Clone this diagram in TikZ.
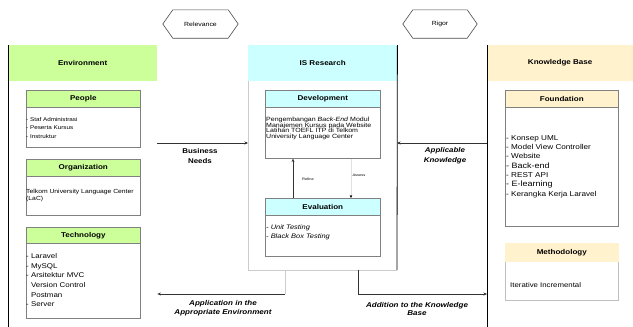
\documentclass[tikz,border=0pt]{standalone}
\usepackage{fontspec}
\setmainfont{Liberation Sans}[FakeStretch=1.15]
\usetikzlibrary{arrows.meta,calc}
\definecolor{envg}{HTML}{CCFF99}
\definecolor{isc}{HTML}{CCFFFF}
\definecolor{kby}{HTML}{FFF2CC}
\newcommand\fsz[2]{\fontsize{#1}{#2}\selectfont}
\begin{document}
\begin{tikzpicture}[x=1pt,y=-1pt,
  colhdr/.style={anchor=north west, inner sep=0, minimum height=36, font=\fsz{7}{8}\bfseries},
  box/.style={anchor=north west, inner sep=0, draw=black!50, line width=0.6},
  bhdr/.style={anchor=north west, inner sep=0, draw=black!50, line width=0.6, font=\fsz{7}{8}\bfseries},
  btxt/.style={anchor=north west, inner sep=0, align=left},
  colline/.style={line width=0.8, black},
  faint/.style={line width=0.6, black!20},
  arr/.style={line width=0.8, black!80, -{Stealth[length=3.5pt,width=3pt]}},
  lbl/.style={align=center, inner sep=0, font=\fsz{6.9}{9.5}\bfseries},
  small/.style={inner sep=0, font=\fsz{3.5}{4}},
  hex/.style={draw=black!70, line width=0.6},
]
\useasboundingbox (0,0) rectangle (633,327);

% column headers
\node[colhdr, fill=envg, minimum width=149] (env) at (8,45) {Environment};
\node[colhdr, fill=isc, minimum width=149] (isr) at (248,45) {IS Research};
\node[colhdr, fill=kby, minimum width=146] (kb) at (487,45) {Knowledge Base};

\coordinate (envb) at (8,327);
\draw[colline] (env.north west) -- (envb);
\coordinate (isbr) at (397,270);
\coordinate (isbl) at (248,270);
\draw[colline] (isr.north east) -- (isbr);
\draw[faint] (isbr) -- (isbl) -- (isr.south west);
\coordinate (kbb) at (487,327);
\draw[colline] (kb.north west) -- (kbb);

% hexagons
\node[inner sep=0, minimum width=55, minimum height=28, font=\fsz{6}{7}] (rel) at (200.5,24) {Relevance};
\draw[hex] ($(rel.west)+(-10,0)$) -- (rel.north west) -- (rel.north east) -- ($(rel.east)+(10,0)$) -- (rel.south east) -- (rel.south west) -- cycle;
\node[inner sep=0, minimum width=54, minimum height=28, font=\fsz{6}{7}] (rig) at (440,24) {Rigor};
\draw[hex] ($(rig.west)+(-10,0)$) -- (rig.north west) -- (rig.north east) -- ($(rig.east)+(10,0)$) -- (rig.south east) -- (rig.south west) -- cycle;

% Environment boxes
\node[box, minimum width=114, minimum height=57] (people) at (26,90) {};
\node[bhdr, fill=envg, minimum width=114, minimum height=17] (peopleh) at (people.north west) {People};
\node[btxt, font=\fsz{5.5}{8.5}] (peoplet) at (26,117) {- Staf Administrasi\\- Peserta Kursus\\- Instruktur};

\node[box, minimum width=114, minimum height=56] (org) at (26,159) {};
\node[bhdr, fill=envg, minimum width=114, minimum height=17] (orgh) at (org.north west) {Organization};
\node[btxt, font=\fsz{5.9}{7.5}] (orgt) at (26,188.7) {Telkom University Language Center\\(LaC)};

\node[box, minimum width=114, minimum height=91] (tech) at (26,227) {};
\node[bhdr, fill=envg, minimum width=114, minimum height=16] (techh) at (tech.north west) {Technology};
\node[btxt, font=\fsz{6.9}{9.6}] (techt) at (26,253.5) {- Laravel\\- MySQL\\- Arsitektur MVC\\\hphantom{- }Version Control\\\hphantom{- }Postman\\- Server};

% IS Research boxes
\node[box, minimum width=115, minimum height=68] (dev) at (265,90) {};
\node[bhdr, fill=isc, minimum width=115, minimum height=17] (devh) at (dev.north west) {Development};
\node[btxt, font=\fsz{6.1}{5.9}] (devt) at (266,116.5) {Pengembangan \textit{Back-End} Modul\\Manajemen Kursus pada Website\\Latihan TOEFL ITP di Telkom\\University Language Center};

\node[box, minimum width=115, minimum height=58] (eval) at (265,198) {};
\node[bhdr, fill=isc, minimum width=115, minimum height=17] (evalh) at (eval.north west) {Evaluation};
\node[btxt, font=\fsz{6.5}{8.3}\itshape] (evalt) at (266,224.8) {- Unit Testing\\- Black Box Testing};

\coordinate (rfx) at (293,0);
\draw[arr] (evalh.north -| rfx) -- (dev.south -| rfx);
\node[small] (rfl) at (308,179) {Refine};
\coordinate (asx) at (351,0);
\draw[line width=0.4, black!12, -{Stealth[length=3pt,width=2.6pt,black]}] (dev.south -| asx) -- (evalh.north -| asx);
\node[small] (asl) at (359,175) {Assess};

% Knowledge base boxes
\node[box, minimum width=113, minimum height=136] (found) at (505,90) {};
\node[bhdr, fill=kby, minimum width=113, minimum height=17] (foundh) at (found.north west) {Foundation};
\node[btxt, font=\fsz{7.1}{9.3}] (foundt) at (506,135.3) {- Konsep UML\\- Model View Controller\\- Website\\{\fsz{7.8}{9.3}- Back-end}\\- REST API\\{\fsz{7.8}{9.3}- E-learning}\\- Kerangka Kerja Laravel};

\node[box, draw=black!25, minimum width=113, minimum height=57] (meth) at (505,243) {};
\node[bhdr, draw=kby, fill=kby, minimum width=113, minimum height=18] (methh) at (meth.north west) {Methodology};
\node[inner sep=0, anchor=base west, font=\fsz{6.8}{8}] (metht) at (510,287) {Iterative Incremental};

% connectors between columns
\coordinate (bn0) at (157,143);
\draw[arr] (bn0) -- (bn0 -| isr.west);
\node[lbl] (bnl) at (200,156) {Business\\Needs};

\coordinate (ak0) at (487,143);
\draw[arr] (ak0) -- (ak0 -| isbr);
\node[lbl, font=\fsz{6.9}{9.5}\bfseries\itshape] (akl) at (445,155.5) {Applicable\\Knowledge};

\coordinate (ap0) at (285,270);
\coordinate (ap1) at (285,294);
\draw[faint] (ap0) -- (ap1);
\draw[arr] (ap1) -- (ap1 -| env.east);
\node[lbl, font=\fsz{7}{8.5}\bfseries\itshape] (apl) at (223,308) {Application in the\\Appropriate Environment};

\coordinate (ad0) at (358,270);
\draw[arr] (ad0) |- (ap1 -| kb.west);
\node[lbl, font=\fsz{7}{8.5}\bfseries\itshape] (adl) at (417,309) {Addition to the Knowledge\\Base};
\end{tikzpicture}
\end{document}
